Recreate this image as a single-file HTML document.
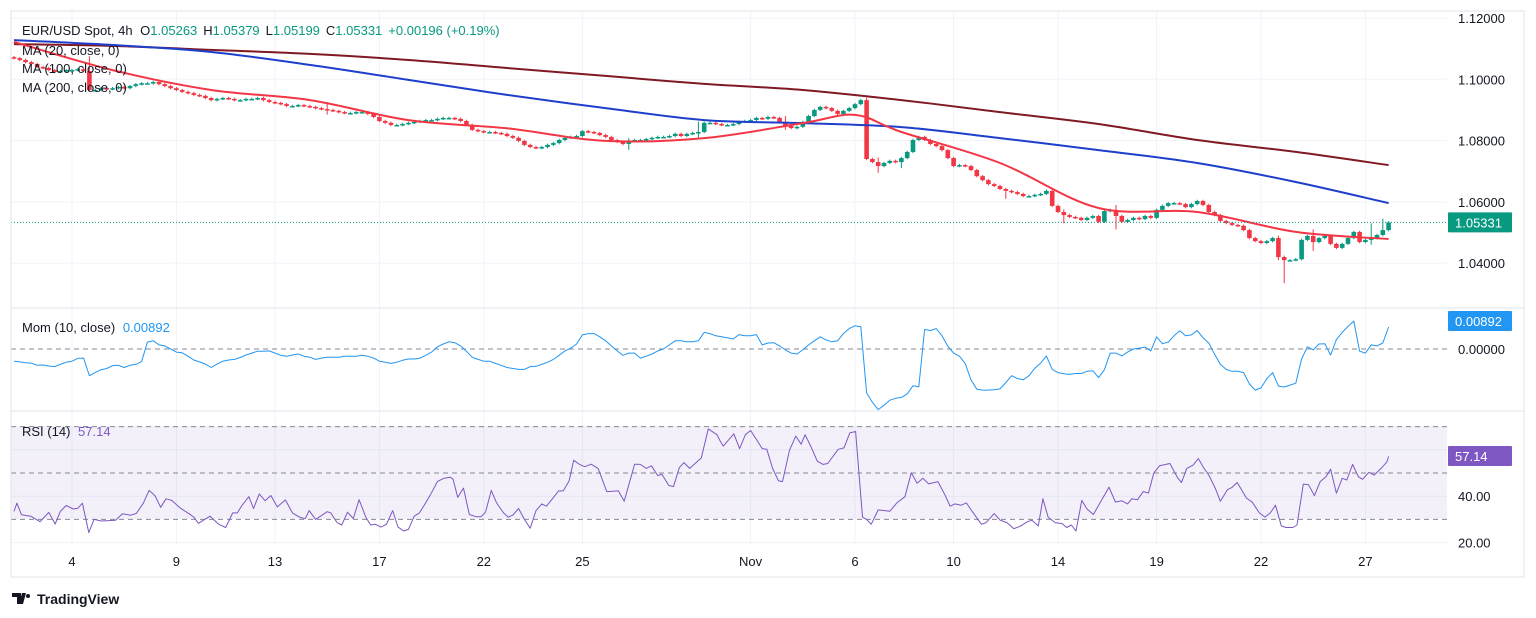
<!DOCTYPE html>
<html><head><meta charset="utf-8"><style>
html,body{margin:0;padding:0;background:#fff;}
svg{display:block;font-family:"Liberation Sans",Arial,sans-serif;}
</style></head><body>
<svg id="c" width="1536" height="618" viewBox="0 0 1536 618">
<defs><clipPath id="rsiClip"><rect x="11" y="412" width="1436" height="133"/></clipPath>
<clipPath id="momClip"><rect x="11" y="309" width="1436" height="102"/></clipPath></defs>
<g id="grid"></g>
<rect x="11" y="426" width="1436" height="93" fill="#7e57c2" fill-opacity="0.09"/>
<g id="plot"></g>
<g id="axes"></g>
<rect x="11" y="11" width="1513" height="566" fill="none" stroke="#e0e3eb"/>
<line x1="11" y1="308" x2="1524" y2="308" stroke="#e0e3eb"/>
<line x1="11" y1="411" x2="1524" y2="411" stroke="#e0e3eb"/>
<g font-size="13">
<text x="22" y="35" fill="#131722">EUR/USD Spot, 4h <tspan dx="4">O</tspan><tspan fill="#089981">1.05263</tspan><tspan dx="6">H</tspan><tspan fill="#089981">1.05379</tspan><tspan dx="6">L</tspan><tspan fill="#089981">1.05199</tspan><tspan dx="6">C</tspan><tspan fill="#089981">1.05331</tspan><tspan dx="6" fill="#089981">+0.00196 (+0.19%)</tspan></text>
<text x="22" y="55" fill="#131722">MA (20, close, 0)</text>
<text x="22" y="73" fill="#131722">MA (100, close, 0)</text>
<text x="22" y="92" fill="#131722">MA (200, close, 0)</text>
<text x="22" y="332" fill="#131722">Mom (10, close) <tspan dx="4" fill="#2196f3">0.00892</tspan></text>
<text x="22" y="436" fill="#131722">RSI (14) <tspan dx="4" fill="#7e57c2">57.14</tspan></text>
</g>
<g>
<path d="M12 593h9v11h-4v-7h-5z M22 593h4l-3 11h-4z" fill="#131722"/>
<circle cx="28" cy="596" r="2" fill="#131722"/>
<text x="37" y="604" font-size="14" font-weight="bold" fill="#131722">TradingView</text>
</g>
</svg>
<script>
const closes=[1.1069,1.1063,1.1056,1.1050,1.1040,1.1037,1.1030,1.1024,1.1027,1.1030,
1.1030,1.1033,1.1027,1.0965,1.0965,1.0971,1.0968,1.0971,1.0975,1.0971,
1.0978,1.0984,1.0987,1.0987,1.0991,1.0984,1.0978,1.0971,1.0965,1.0959,
1.0955,1.0949,1.0946,1.0939,1.0932,1.0936,1.0939,1.0936,1.0932,1.0932,
1.0936,1.0936,1.0939,1.0932,1.0926,1.0923,1.0919,1.0913,1.0913,1.0916,
1.0913,1.0910,1.0906,1.0903,1.0900,1.0897,1.0893,1.0890,1.0890,1.0893,
1.0893,1.0887,1.0877,1.0864,1.0858,1.0851,1.0851,1.0854,1.0858,1.0861,
1.0864,1.0867,1.0867,1.0871,1.0874,1.0874,1.0871,1.0864,1.0851,1.0835,
1.0831,1.0828,1.0828,1.0825,1.0822,1.0815,1.0809,1.0799,1.0786,1.0779,
1.0776,1.0779,1.0786,1.0792,1.0802,1.0809,1.0812,1.0815,1.0831,1.0828,
1.0825,1.0818,1.0812,1.0802,1.0796,1.0789,1.0799,1.0802,1.0802,1.0805,
1.0809,1.0812,1.0812,1.0815,1.0822,1.0815,1.0822,1.0825,1.0828,1.0858,
1.0858,1.0854,1.0851,1.0851,1.0854,1.0861,1.0864,1.0867,1.0874,1.0871,
1.0877,1.0874,1.0861,1.0848,1.0841,1.0845,1.0861,1.0880,1.0900,1.0910,
1.0906,1.0897,1.0887,1.0897,1.0906,1.0919,1.0932,1.0740,1.0730,1.0717,
1.0727,1.0734,1.0730,1.0743,1.0763,1.0802,1.0812,1.0802,1.0789,1.0782,
1.0769,1.0743,1.0717,1.0720,1.0717,1.0704,1.0684,1.0671,1.0658,1.0652,
1.0642,1.0636,1.0632,1.0626,1.0619,1.0619,1.0623,1.0626,1.0636,1.0587,
1.0567,1.0557,1.0551,1.0548,1.0541,1.0548,1.0554,1.0535,1.0570,1.0574,
1.0554,1.0535,1.0541,1.0548,1.0544,1.0554,1.0548,1.0574,1.0587,1.0596,
1.0596,1.0593,1.0583,1.0593,1.0603,1.0590,1.0567,1.0557,1.0538,1.0531,
1.0525,1.0522,1.0508,1.0482,1.0472,1.0466,1.0472,1.0482,1.0420,1.0410,
1.0410,1.0413,1.0476,1.0489,1.0469,1.0482,1.0489,1.0463,1.0450,1.0463,
1.0482,1.0502,1.0469,1.0476,1.0482,1.0492,1.0508,1.0533];
const preCloses=[1.1125,1.1120,1.1118,1.1112,1.1108,1.1104,1.1100,1.1095,1.1092,1.1088,1.1084,1.1080,1.1076,1.1072];
const firstOpen=1.1072;
const wickIdx=[13,54,106,118,133,147,149,153,171,181,190,218,219,224,234,236];
const wickHigh=[1.1075,1.0925,1.0808,1.0862,1.0880,1.0940,1.0745,1.0745,1.0640,1.0575,1.0590,1.0490,1.0425,1.0510,1.0530,1.0545];
const wickLow=[1.0960,1.0885,1.0770,1.0810,1.0835,1.0930,1.0695,1.0710,1.0610,1.0530,1.0510,1.0410,1.0335,1.0440,1.0460,1.0495];
const maIdx=[0,17,34,51,68,85,102,119,136,145,153,170,187,204,221,237];
const ma20=[1.1122,1.1030,1.0965,1.0932,1.0867,1.0840,1.0799,1.0808,1.0857,1.0884,1.0828,1.0727,1.0580,1.0567,1.0502,1.0479];
const ma100Idx=[0,17,34,51,68,85,102,119,136,153,170,187,204,221,237];
const ma100=[1.1128,1.1112,1.1089,1.1047,1.0998,1.0949,1.0906,1.0867,1.0857,1.0844,1.0808,1.0769,1.0727,1.0665,1.0596];
const ma200=[1.1115,1.1109,1.1096,1.1083,1.1063,1.1037,1.1011,1.0985,1.0965,1.0932,1.0893,1.0854,1.0802,1.0763,1.0720];
const rsiIdx=[0,0.5,1.3,2.9,4.5,6.0,7.1,8.0,9.0,10.2,11.0,11.8,12.9,13.8,15.1,17.5,18.7,20.1,21.1,22.3,23.3,24.3,25.3,26.2,27.2,28.6,30.2,31.0,31.8,33.8,35.3,36.5,37.7,38.5,39.3,40.5,41.3,42.3,43.3,44.3,45.4,46.8,48.0,49.2,50.2,50.9,52.0,54.0,54.6,55.7,56.5,57.5,58.5,59.5,60.7,61.5,62.3,63.3,64.2,65.3,66.2,67.2,68.0,69.0,69.9,70.8,71.8,73.0,74.1,75.2,75.7,76.5,77.5,78.5,79.7,80.5,81.3,82.3,83.2,84.4,85.2,86.0,87.0,88.0,89.0,90.0,91.0,91.8,92.7,93.9,94.7,95.7,96.5,97.5,98.4,99.5,100.7,102.2,104.2,105.2,107.0,108.0,109.0,109.9,111.0,111.7,112.9,113.7,114.7,115.5,116.5,118.5,119.7,121.2,
121.7,122.3,124.1,125.1,126.1,127.0,128.0,129.0,129.8,130.8,131.8,132.5,133.7,134.8,135.7,136.4,137.5,138.5,139.5,140.3,142.1,143.1,144.1,145.1,146.3,147.0,147.8,149.0,151.0,152.2,153.6,154.7,155.7,156.7,157.7,159.3,160.5,161.4,162.2,163.3,164.2,165.1,166.8,167.6,169.0,170.0,171.2,172.4,173.6,174.7,175.5,176.6,177.4,178.3,179.5,180.7,181.5,182.3,183.1,184.1,185.0,186.1,187.4,188.8,189.9,191.0,192.0,192.7,193.7,194.7,195.6,196.5,197.5,199.3,200.6,201.3,202.2,203.3,204.2,205.1,206.0,207.1,208.0,209.2,210.0,210.9,212.5,213.5,214.7,215.7,216.6,217.5,218.5,219.3,220.5,221.2,222.3,223.2,224.2,225.2,226.2,227.0,228.0,229.0,229.8,230.8,231.8,232.5,233.6,234.5,235.7,236.7,237];
const rsiVals=[33.5,37,32,31.4,29,33,28,33.5,36,34.5,34.8,37,24.3,30,29.3,29.6,32.4,31.8,32.6,37,42.5,40.3,35.2,38.9,38.2,35,32.4,31,28.3,31.4,27.9,26.5,32.8,32.8,36,39.8,34.7,41,38,40.3,35.4,38.4,32.8,31,30.3,33.8,30,33.3,32.8,28.6,27.6,33.1,30.4,38.5,30.7,27.6,27.9,26.7,27.9,33.8,26.7,25,25.7,31.4,32.8,36.4,40.6,46.3,47.7,48.2,47.3,39.5,43.5,32.1,31.1,31.1,33.1,42.5,37.1,32.8,31,31.8,34.7,30,26.2,33.8,36.7,35.7,38.5,42.3,42.3,46.6,55.5,53.7,52.7,53.8,52,42,42.3,37.8,53.8,53.7,52,53.1,48.9,49.5,44.6,44.2,52.3,54.5,52,56.5,69,66.5,
64,61.6,66.9,60.5,66.5,68.3,64.5,60.5,60.2,52,46.7,46.3,59.8,65.9,62.4,66.5,60.8,55.1,53.7,54.1,60.2,60.8,67.3,67.9,31,30,27.9,34.1,33.5,37.1,39.8,50.1,45.6,47.7,45.3,46.3,40.6,35.7,36.7,36.1,37.1,33.8,27.9,28.6,32.5,29.7,28.6,26,27.2,29,29.6,27.2,38.9,31,28.6,28.2,26.5,27.6,25,38.2,34.5,32.1,37.8,43.9,37.5,38,36.7,38.9,38.5,42,41.4,49.9,53.1,54.1,48,45.9,52,53.4,56.2,52.3,49.1,43.5,37.8,42.8,43.8,45.9,39.2,37.4,32.8,31,32.8,36.1,27.2,26.5,26.5,27.6,45.2,44.9,40.2,46.3,48.4,51.7,41.3,47.7,47,53.7,48.4,47.3,50.3,49.1,52,54.8,57.14];
const priceTicks=[1.12,1.10,1.08,1.06,1.04];
const rsiTicks=[60,40,20];
const dateLabels=["4","9","13","17","22","25","Nov","6","10","14","19","22","27"];
const dateIdx=[10,28,45,63,81,98,127,145,162,180,197,215,233];

const NS="http://www.w3.org/2000/svg";
const X0=14, DX=5.8;
const xs=i=>X0+i*DX;
const yP=p=>18+(1.12-p)*3065;
const yM=m=>349-m*3140;
const yR=r=>473-(r-50)*2.32;
function mk(tag,attrs,parent){const e=document.createElementNS(NS,tag);for(const k in attrs)e.setAttribute(k,attrs[k]);parent.appendChild(e);return e;}
const grid=document.getElementById('grid'),plot=document.getElementById('plot'),axes=document.getElementById('axes');

dateIdx.forEach((di,k)=>{
  const l=mk('line',{x1:xs(di),x2:xs(di),y1:11,y2:545,stroke:'#f0f3fa'},grid);
  
  
  const t=mk('text',{x:xs(di),y:566,'text-anchor':'middle','font-size':13,fill:'#131722'},axes);
  t.textContent=dateLabels[k];
  
  
});
priceTicks.forEach(p=>{
  const l=mk('line',{x1:11,x2:1447,y1:yP(p),y2:yP(p),stroke:'#f0f3fa'},grid);
  
  
  const t=mk('text',{x:1458,y:yP(p)+5,'font-size':13,fill:'#131722'},axes);
  t.textContent=p.toFixed(5);
  
  
});
rsiTicks.forEach(r=>{
  const l=mk('line',{x1:11,x2:1447,y1:yR(r),y2:yR(r),stroke:'#f0f3fa'},grid);
  
  
  const t=mk('text',{x:1458,y:yR(r)+5,'font-size':13,fill:'#131722'},axes);
  t.textContent=r.toFixed(2);
  
  
});
const mz=mk('text',{x:1458,y:yM(0)+5,'font-size':13,fill:'#131722'},axes);
mz.textContent='0.00000';



[yM(0),yR(70),yR(50),yR(30)].forEach(y=>{
  const l=mk('line',{x1:11,x2:1447,y1:y,y2:y,stroke:'#868993','stroke-dasharray':'5,4','stroke-width':1},plot);
  
  
});

closes.forEach((c,i)=>{
  const o=i===0?firstOpen:closes[i-1];
  let hi=Math.max(o,c)+0.0004, lo=Math.min(o,c)-0.0004;
  const w=wickIdx.indexOf(i); if(w>=0){hi=Math.max(hi,wickHigh[w]);lo=Math.min(lo,wickLow[w]);}
  const col=c>=o?'#089981':'#f23645';
  const x=xs(i);
  const g=mk('g',{},plot);
  
  
  mk('line',{x1:x,x2:x,y1:yP(hi),y2:yP(lo),stroke:col,'stroke-width':1},g);
  const y1=yP(Math.max(o,c)),y2=yP(Math.min(o,c));
  mk('rect',{x:x-2.3,y:y1,width:4.6,height:Math.max(1.5,y2-y1),fill:col},g);
});

function line(idx,vals,fy,col,w,name,clip,smooth){
  const pts=vals.map((v,k)=>[xs(idx[k]),fy(v)]);
  let d='M'+pts[0][0].toFixed(1)+' '+pts[0][1].toFixed(1);
  for(let k=1;k<pts.length;k++){
    if(smooth){
      const p0=pts[Math.max(0,k-2)],p1=pts[k-1],p2=pts[k],p3=pts[Math.min(pts.length-1,k+1)];
      const c1=[p1[0]+(p2[0]-p0[0])/6,p1[1]+(p2[1]-p0[1])/6],c2=[p2[0]-(p3[0]-p1[0])/6,p2[1]-(p3[1]-p1[1])/6];
      d+=' C'+c1.map(n=>n.toFixed(1)).join(' ')+' '+c2.map(n=>n.toFixed(1)).join(' ')+' '+p2[0].toFixed(1)+' '+p2[1].toFixed(1);
    } else d+=' L'+pts[k][0].toFixed(1)+' '+pts[k][1].toFixed(1);
  }
  const p=mk('path',{d:d,fill:'none',stroke:col,'stroke-width':w,'stroke-linejoin':'round'},plot);
  if(clip)p.setAttribute('clip-path','url(#'+clip+')');
  
  
}
line(ma100Idx,ma200,yP,'#801922',2,'ma200-line',null,true);
line(ma100Idx,ma100,yP,'#1e3fcc',2,'ma100-line',null,true);
line(maIdx,ma20,yP,'#f23645',2,'ma20-line',null,true);

const all=preCloses.concat(closes), P=preCloses.length;
const mom=closes.map((c,i)=>c-all[P+i-10]);
const allIdx=closes.map((_,i)=>i);
line(allIdx,mom,yM,'#2196f3',1,'momentum-line','momClip');
line(rsiIdx,rsiVals,yR,'#7e57c2',1,'rsi-line','rsiClip');

const cy=yP(closes[closes.length-1]);
const cl=mk('line',{x1:11,x2:1447,y1:cy,y2:cy,stroke:'#089981','stroke-dasharray':'1,2'},plot);


function badge(y,txt,col,name){
  const g=mk('g',{},axes);
  
  
  mk('rect',{x:1448,y:y-10,width:64,height:20,fill:col,rx:1},g);
  const t=mk('text',{x:1455,y:y+5,'font-size':13,fill:'#fff'},g);
  t.textContent=txt;
}
badge(cy,'1.05331','#089981','price-badge');
badge(321,'0.00892','#2196f3','mom-badge');
badge(456,'57.14','#7e57c2','rsi-badge');
</script>
</body></html>
